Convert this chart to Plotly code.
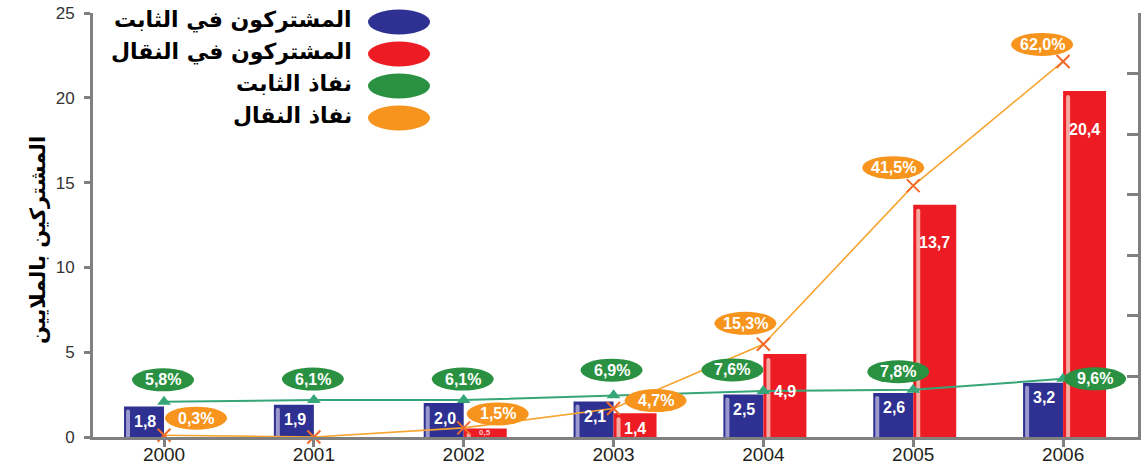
import plotly.graph_objects as go

# ---------------- data ----------------
years = ["2000", "2001", "2002", "2003", "2004", "2005", "2006"]
fixed_subs = [1.8, 1.9, 2.0, 2.1, 2.5, 2.6, 3.2]          # millions
mobile_subs = [None, None, 0.5, 1.4, 4.9, 13.7, 20.4]     # millions
fixed_pen = [5.8, 6.1, 6.1, 6.9, 7.6, 7.8, 9.6]           # %
mobile_pen = [0.3, 0.0, 1.5, 4.7, 15.3, 41.5, 62.0]       # %
mobile_pen_labelled = [True, False, True, True, True, True, True]

legend_names = ["المشتركون في الثابت", "المشتركون في النقال", "نفاذ الثابت", "نفاذ النقال"]
y_title = "المشتركين بالملايين"

# ---------------- style ----------------
BLUE = "#2E3192"
RED = "#ED1C24"
BLUE_STRIPE = "#9A98CC"
RED_STRIPE = "#F5A9A0"
GREEN_BADGE = "#2A9142"
ORANGE_BADGE = "#F7941D"
GREEN_LINE = "#36A679"
ORANGE_LINE = "#F8A431"
ORANGE_MARK = "#F26A2A"
AXIS = "#808080"
NUM_FONT = "Liberation Sans"
AR_FONT = "DejaVu Sans"

W, H = 1143, 469
ML, MR, MT, MB = 93, 5, 13, 32
PW, PH = W - ML - MR, H - MT - MB
XR = [-0.474, 6.5]
YMAX, Y2MAX = 25, 70
ppu_x = PW / (XR[1] - XR[0])
ppu_y = PH / YMAX

BLUE_W, RED_W, STRIPE_W = 40, 43, 4

def fmt(v):
    return f"{v:.1f}".replace(".", ",")

fig = go.Figure()
idx = list(range(len(years)))

fig.add_trace(go.Bar(x=idx, y=fixed_subs, offset=-BLUE_W / ppu_x, width=BLUE_W / ppu_x,
                     marker=dict(color=BLUE, line=dict(width=0)), name=legend_names[0],
                     showlegend=False, hoverinfo="skip"))
fig.add_trace(go.Bar(x=idx, y=mobile_subs, offset=0, width=RED_W / ppu_x,
                     marker=dict(color=RED, line=dict(width=0)), name=legend_names[1],
                     showlegend=False, hoverinfo="skip"))
# highlight stripes
fig.add_trace(go.Bar(x=idx, y=[v - 3 / ppu_y for v in fixed_subs],
                     offset=-(BLUE_W - 2) / ppu_x, width=STRIPE_W / ppu_x,
                     marker=dict(color=BLUE_STRIPE, line=dict(width=0), cornerradius=2),
                     showlegend=False, hoverinfo="skip"))
fig.add_trace(go.Bar(x=idx, y=[None if v is None else max(v - 4 / ppu_y, 0) for v in mobile_subs],
                     offset=3 / ppu_x, width=STRIPE_W / ppu_x,
                     marker=dict(color=RED_STRIPE, line=dict(width=0), cornerradius=2),
                     showlegend=False, hoverinfo="skip"))

fig.add_trace(go.Scatter(x=idx, y=fixed_pen, yaxis="y2", mode="lines+markers",
                         line=dict(color=GREEN_LINE, width=2),
                         marker=dict(symbol="triangle-up", size=12, color=GREEN_LINE),
                         name=legend_names[2], showlegend=False, cliponaxis=False, hoverinfo="skip"))
fig.add_trace(go.Scatter(x=idx, y=mobile_pen, yaxis="y2", mode="lines+markers",
                         line=dict(color=ORANGE_LINE, width=1.6),
                         marker=dict(symbol="x-thin", size=13, line=dict(color=ORANGE_MARK, width=2)),
                         name=legend_names[3], showlegend=False, cliponaxis=False, hoverinfo="skip"))

shapes, annos = [], []

# badge offsets (screen px, from marker centre to badge centre)
green_off = [(-1, -22), (-1, -21), (-1, -21), (-2, -25), (-31, -21), (-15, -18), (32, 0)]
orange_off = [(32, -17), (0, 0), (34, -14), (42, -8), (-18, -21), (-20, -18), (-21, -17)]
BW, BH = 62, 23

def badge(i, val, off, color):
    dx, dy = off
    shapes.append(dict(type="circle", xref="x", yref="y2", xsizemode="pixel", ysizemode="pixel",
                       xanchor=i, yanchor=val, x0=dx - BW / 2, x1=dx + BW / 2,
                       y0=-dy - BH / 2, y1=-dy + BH / 2, fillcolor=color,
                       line=dict(width=0), layer="above"))
    annos.append(dict(x=i, y=val, xref="x", yref="y2", xshift=dx, yshift=-dy,
                      text=f"<b>{fmt(val)}%</b>", showarrow=False,
                      font=dict(family=NUM_FONT, size=16, color="white")))

for i, v in enumerate(fixed_pen):
    badge(i, v, green_off[i], GREEN_BADGE)
for i, v in enumerate(mobile_pen):
    if mobile_pen_labelled[i]:
        badge(i, v, orange_off[i], ORANGE_BADGE)

# bar value labels
for i, v in enumerate(fixed_subs):
    annos.append(dict(x=i, y=v, xref="x", yref="y", xshift=-BLUE_W / 2 + 1, yshift=-15,
                      text=f"<b>{fmt(v)}</b>", showarrow=False,
                      font=dict(family=NUM_FONT, size=16, color="white")))
for i, v in enumerate(mobile_subs):
    if v is None:
        continue
    if v < 1:
        annos.append(dict(x=i, y=v / 2, xref="x", yref="y", xshift=RED_W / 2, yshift=0,
                          text=f"<b>{fmt(v)}</b>", showarrow=False,
                          font=dict(family=NUM_FONT, size=8, color="#F8C8C8")))
    else:
        annos.append(dict(x=i, y=v, xref="x", yref="y", xshift=RED_W / 2, yshift=-38 if v > 3 else -15,
                          text=f"<b>{fmt(v)}</b>", showarrow=False,
                          font=dict(family=NUM_FONT, size=16, color="white")))

# manual legend (swatch on the right, Arabic text on the left)
leg_colors = [BLUE, RED, GREEN_BADGE, ORANGE_BADGE]
leg_cx, leg_text_right, leg_y0, leg_dy = 399, 354, 22, 32
for k, (name, col) in enumerate(zip(legend_names, leg_colors)):
    cy = leg_y0 + k * leg_dy
    px = (leg_cx - ML) / PW
    py = (H - MB - cy) / PH
    shapes.append(dict(type="circle", xref="paper", yref="paper", xsizemode="pixel", ysizemode="pixel",
                       xanchor=px, yanchor=py, x0=-31, x1=31, y0=-12.5, y1=12.5,
                       fillcolor=col, line=dict(width=0), layer="above"))
    annos.append(dict(x=(leg_text_right - ML) / PW, y=py + 2 / PH, xref="paper", yref="paper",
                      xanchor="right", yanchor="middle", text=f"<b>{name}</b>", showarrow=False,
                      font=dict(family=AR_FONT, size=22, color="black")))

# y axis title
annos.append(dict(x=(24 - ML) / PW, y=(H - MB - 240) / PH, xref="paper", yref="paper",
                  text=f"<b>{y_title}</b>", textangle=-90, showarrow=False,
                  font=dict(family=AR_FONT, size=21, color="black")))

fig.update_layout(
    width=W, height=H, margin=dict(l=ML, r=MR, t=MT, b=MB, pad=0, autoexpand=False),
    paper_bgcolor="white", plot_bgcolor="white", barmode="overlay",
    showlegend=False, shapes=shapes, annotations=annos,
    xaxis=dict(range=XR, tickmode="array", tickvals=idx, ticktext=years, automargin=False,
               showline=True, linecolor=AXIS, linewidth=3, ticks="outside", ticklen=7,
               tickwidth=3, tickcolor=AXIS, showgrid=False, zeroline=False,
               ticklabelstandoff=-9,
               tickfont=dict(family=NUM_FONT, size=19, color="#231F20")),
    yaxis=dict(range=[0, YMAX], dtick=5, showline=True, linecolor=AXIS, linewidth=3,
               ticks="outside", ticklen=6, tickwidth=3, tickcolor=AXIS, showgrid=False,
               zeroline=False, ticklabelstandoff=6, automargin=False,
               tickfont=dict(family=NUM_FONT, size=17, color="#333333")),
    yaxis2=dict(range=[0, Y2MAX], dtick=10, overlaying="y", side="right", showline=True,
                linecolor=AXIS, linewidth=3, ticks="inside", ticklen=11, tickwidth=3, automargin=False,
                tickcolor=AXIS, showticklabels=False, showgrid=False, zeroline=False),
)

fig.write_html("out.html")
